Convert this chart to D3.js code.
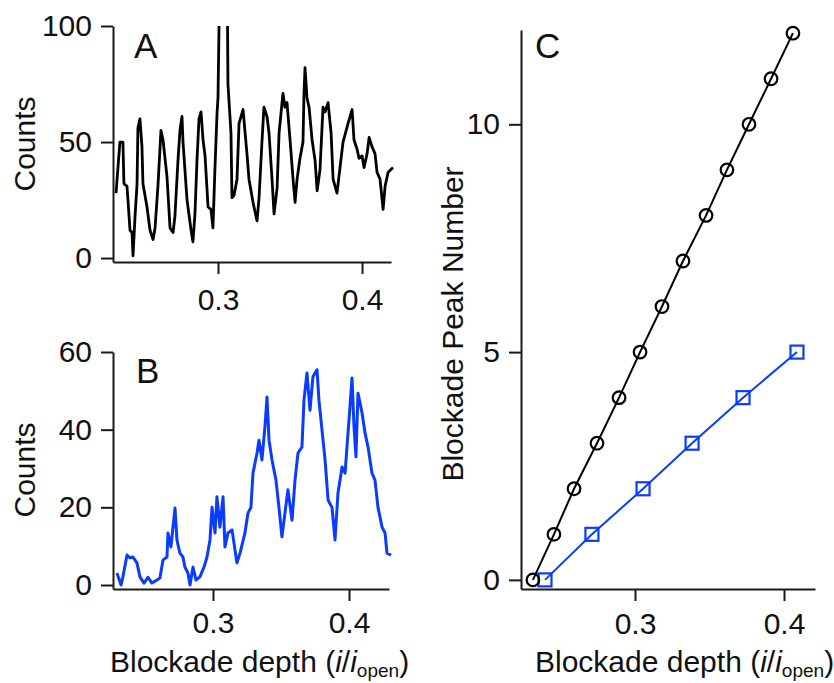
<!DOCTYPE html>
<html>
<head>
<meta charset="utf-8">
<script src="https://cdn.jsdelivr.net/npm/d3@7"></script>
<style>
body { margin: 0; background: #fff; }
text { font-family: "Liberation Sans", Arial, sans-serif; }
</style>
</head>
<body>
<script>
//variables
var width = 834;
var height = 683;
var blue = "#0a3cff";
var ink = "#111";

//panel A histogram (blockade depth, counts)
var depthA = [0.2292, 0.2319, 0.2340, 0.2347, 0.2368, 0.2375, 0.2389, 0.2403, 0.2410, 0.2424, 0.2438, 0.2444, 0.2458, 0.2472, 0.2479,
    0.2507, 0.2528, 0.2549, 0.2563, 0.2583, 0.2604, 0.2618, 0.2646, 0.2667, 0.2688, 0.2701, 0.2722, 0.2736, 0.2750, 0.2757,
    0.2785, 0.2813, 0.2826, 0.2840, 0.2854, 0.2868, 0.2882, 0.2896, 0.2910, 0.2931, 0.2951, 0.2965, 0.2979, 0.2993, 0.3000,
    0.3014, 0.3063, 0.3069, 0.3090, 0.3097, 0.3111, 0.3132, 0.3146, 0.3174, 0.3188, 0.3201, 0.3215, 0.3243, 0.3271, 0.3285,
    0.3306, 0.3319, 0.3340, 0.3354, 0.3375, 0.3389, 0.3410, 0.3424, 0.3451, 0.3465, 0.3479, 0.3500, 0.3521, 0.3535, 0.3549,
    0.3569, 0.3590, 0.3597, 0.3604, 0.3618, 0.3632, 0.3653, 0.3674, 0.3688, 0.3708, 0.3729, 0.3743, 0.3764, 0.3785, 0.3799,
    0.3826, 0.3847, 0.3868, 0.3903, 0.3931, 0.3944, 0.3965, 0.3979, 0.4000, 0.4014, 0.4035, 0.4049, 0.4069, 0.4090, 0.4104,
    0.4125, 0.4146, 0.4160, 0.4181, 0.4215];
var countsA = [28, 50, 50, 32, 31, 25, 12, 11, 1, 18, 32, 56, 60, 48, 32,
    22, 12, 8, 13, 31, 55, 51, 35, 13, 11, 18, 42, 55, 61, 50,
    25, 12, 7, 19, 42, 60, 63, 51, 44, 22, 21, 13, 39, 62, 69,
    130, 130, 75, 54, 26, 27, 34, 58, 64, 54, 45, 34, 24, 16, 26,
    51, 65, 61, 54, 34, 19, 30, 54, 71, 65, 67, 51, 34, 24, 34,
    43, 50, 71, 82, 69, 65, 51, 42, 29, 38, 65, 63, 67, 54, 34,
    28, 39, 50, 58, 64, 51, 47, 43, 44, 39, 45, 52, 48, 45, 37,
    34, 21, 31, 37, 39];

//panel B histogram
var depthB = [0.2294, 0.2324, 0.2338, 0.2368, 0.2390, 0.2412, 0.2441, 0.2463, 0.2493, 0.2522, 0.2551, 0.2588, 0.2610, 0.2632, 0.2662,
    0.2669, 0.2691, 0.2706, 0.2721, 0.2735, 0.2757, 0.2779, 0.2794, 0.2816, 0.2831, 0.2853, 0.2875, 0.2904, 0.2934, 0.2956,
    0.2978, 0.2993, 0.3015, 0.3029, 0.3051, 0.3074, 0.3088, 0.3110, 0.3140, 0.3162, 0.3176, 0.3199, 0.3235, 0.3257, 0.3279,
    0.3294, 0.3324, 0.3338, 0.3360, 0.3382, 0.3397, 0.3412, 0.3434, 0.3463, 0.3485, 0.3507, 0.3529, 0.3551, 0.3581, 0.3603,
    0.3625, 0.3654, 0.3669, 0.3691, 0.3713, 0.3735, 0.3765, 0.3779, 0.3809, 0.3824, 0.3846, 0.3875, 0.3897, 0.3919, 0.3949,
    0.3971, 0.3985, 0.4007, 0.4022, 0.4037, 0.4051, 0.4066, 0.4096, 0.4118, 0.4140, 0.4169, 0.4191, 0.4213, 0.4243, 0.4265,
    0.4279, 0.4309];
var countsB = [3.1, 0, 2.1, 7.7, 7.0, 7.2, 5.7, 2.1, 0.5, 2.0, 0.5, 1.3, 1.8, 6.4, 7.2,
    13.4, 9.8, 14.9, 19.8, 11.6, 8.2, 7.2, 4.6, 3.1, 0, 4.6, 1.3, 2.1, 4.6, 7.2,
    11.6, 20, 13.4, 22.7, 14.9, 22.7, 9.8, 13.4, 14.2, 9, 5.7, 8.2, 13.4, 18.5, 20,
    28.8, 34, 37.3, 32.2, 40.7, 48.4, 37.3, 32.2, 27, 20, 12.4, 18.5, 24.5, 16.7, 27,
    34, 35.5, 47.6, 54.6, 45, 53.6, 55.4, 47.6, 37.3, 32.2, 21.9, 20, 11.6, 23.7, 30.4,
    28.8, 35.5, 45.8, 53.3, 40.7, 33, 49.4, 44.3, 39.1, 35.5, 28.8, 27, 20, 14.9, 13.4,
    8.2, 7.7];

//panel C peak positions
var peakNumA = [0, 1, 2, 3, 4, 5, 6, 7, 8, 9, 10, 11, 12];
var peakDepthA = [0.2315, 0.2456, 0.2591, 0.2745, 0.2893, 0.3034, 0.3181, 0.3322, 0.3477, 0.3617, 0.3765, 0.3913, 0.4060];
var peakNumB = [0, 1, 2, 3, 4, 5];
var peakDepthB = [0.2396, 0.2711, 0.3054, 0.3383, 0.3725, 0.4087];

//tick values
var xTicks = [0.3, 0.4];
var yTicksA = [0, 50, 100];
var yTicksB = [0, 20, 40, 60];
var yTicksC = [0, 5, 10];

var svg = d3.select("body").append("svg")
    .attr("width", width)
    .attr("height", height);

//draws both axes of one panel
function drawAxes(x, y, xTickVals, yTickVals, xPad) {
    var gx = svg.append("g")
        .attr("transform", "translate(0," + y.range()[0] + ")")
        .call(d3.axisBottom(x).tickValues(xTickVals).tickFormat(d3.format(".1f"))
            .tickSize(12).tickSizeOuter(0).tickPadding(xPad));
    var gy = svg.append("g")
        .attr("transform", "translate(" + x.range()[0] + ",0)")
        .call(d3.axisLeft(y).tickValues(yTickVals).tickFormat(d3.format("d"))
            .tickSize(12).tickSizeOuter(0).tickPadding(9));
    [gx, gy].forEach(function (g) {
        g.attr("font-size", 30).attr("font-family", '"Liberation Sans", Arial, sans-serif');
        g.selectAll("path, line").attr("stroke", "#1a1a1a").attr("stroke-width", 2);
        g.selectAll("text").attr("fill", ink);
    });
}

//rotated y label
function yLabel(text, cx, cy) {
    svg.append("text")
        .attr("transform", "translate(" + cx + "," + cy + ") rotate(-90)")
        .attr("text-anchor", "middle")
        .attr("font-size", 30)
        .attr("fill", ink)
        .text(text);
}

//x label with italic i and subscript
function xLabel(x0, y0) {
    var t = svg.append("text").attr("x", x0).attr("y", y0).attr("font-size", 30).attr("fill", ink);
    t.append("tspan").text("Blockade depth (");
    t.append("tspan").attr("font-style", "italic").text("i");
    t.append("tspan").text("/");
    t.append("tspan").attr("font-style", "italic").text("i");
    t.append("tspan").attr("font-size", 19).attr("dy", 5).text("open");
    t.append("tspan").attr("dy", -5).text(")");
}

function panelLetter(text, x0, y0) {
    svg.append("text").attr("x", x0).attr("y", y0).attr("font-size", 35).attr("fill", ink).text(text);
}

//panel A
var xA = d3.scaleLinear().domain([0.2271, 0.4201]).range([113, 391]);
var yA = d3.scaleLinear().domain([-1.7, 100]).range([262, 26]);

svg.append("clipPath").attr("id", "clipA")
    .append("rect").attr("x", 0).attr("y", 26).attr("width", width).attr("height", 300);

var lineA = d3.line()
    .x(function (d, i) { return xA(depthA[i]); })
    .y(function (d) { return yA(d); });

svg.append("path")
    .attr("d", lineA(countsA))
    .attr("clip-path", "url(#clipA)")
    .attr("fill", "none")
    .attr("stroke", "#000")
    .attr("stroke-width", 2.8)
    .attr("stroke-linejoin", "round");

drawAxes(xA, yA, xTicks, yTicksA, 15);
yLabel("Counts", 35, 144);
panelLetter("A", 134, 58);

//panel B
var xB = d3.scaleLinear().domain([0.2265, 0.4294]).range([113, 389]);
var yB = d3.scaleLinear().domain([-1.03, 60]).range([589, 352]);

var lineB = d3.line()
    .x(function (d, i) { return xB(depthB[i]); })
    .y(function (d) { return yB(d); });

svg.append("path")
    .attr("d", lineB(countsB))
    .attr("fill", "none")
    .attr("stroke", blue)
    .attr("stroke-width", 3)
    .attr("stroke-linejoin", "round");

drawAxes(xB, yB, xTicks, yTicksB, 11);
yLabel("Counts", 35, 470);
panelLetter("B", 136, 383);
xLabel(110, 672);

//panel C
var xC = d3.scaleLinear().domain([0.2235, 0.4208]).range([521, 815]);
var yC = d3.scaleLinear().domain([-0.2, 12.07]).range([589, 30]);

drawAxes(xC, yC, xTicks, yTicksC, 12);
yLabel("Blockade Peak Number", 463, 324);
panelLetter("C", 535, 58);
xLabel(535, 672);

var lineC = d3.line()
    .x(function (d, i) { return xC(d.x); })
    .y(function (d) { return yC(d.y); });

var ptsA = peakNumA.map(function (n, i) { return {x: peakDepthA[i], y: n}; });
var ptsB = peakNumB.map(function (n, i) { return {x: peakDepthB[i], y: n}; });

svg.append("path").attr("d", lineC(ptsB)).attr("fill", "none").attr("stroke", blue).attr("stroke-width", 2);
svg.append("g").selectAll("rect")
    .data(ptsB).enter().append("rect")
    .attr("x", function (d) { return xC(d.x) - 6.5; })
    .attr("y", function (d) { return yC(d.y) - 6.5; })
    .attr("width", 13).attr("height", 13)
    .attr("fill", "none").attr("stroke", blue).attr("stroke-width", 2.2);

svg.append("path").attr("d", lineC(ptsA)).attr("fill", "none").attr("stroke", "#000").attr("stroke-width", 2);
svg.append("g").selectAll("circle")
    .data(ptsA).enter().append("circle")
    .attr("cx", function (d) { return xC(d.x); })
    .attr("cy", function (d) { return yC(d.y); })
    .attr("r", 6.3)
    .attr("fill", "none").attr("stroke", "#000").attr("stroke-width", 2.2);
</script>
</body>
</html>
